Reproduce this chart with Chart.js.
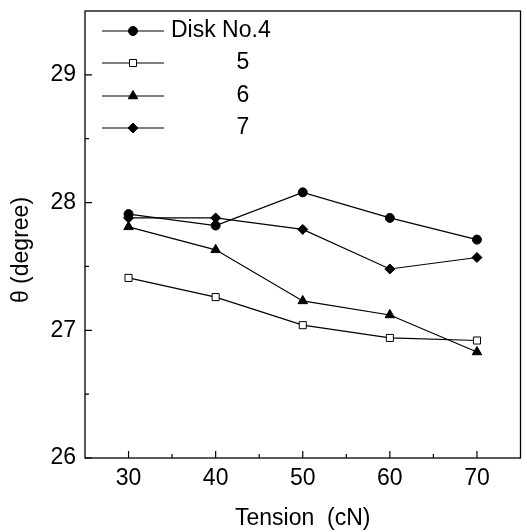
<!DOCTYPE html>
<html lang="en">
<head>
    <meta charset="UTF-8">
    <title>Theta vs Tension</title>
    <style>
        body { margin: 0; background: #fff; }
        #wrap { width: 527px; height: 532px; }
    </style>
</head>
<body>
    <div id="wrap"><canvas id="chart" width="527" height="532"></canvas></div>

    <script src="https://cdn.jsdelivr.net/npm/chart.js"></script>
    <script>
        // data
        const tension = [30, 40, 50, 60, 70];
        const disk4 = [27.91, 27.82, 28.08, 27.88, 27.71];
        const disk5 = [27.41, 27.26, 27.04, 26.94, 26.92];
        const disk6 = [27.81, 27.63, 27.23, 27.12, 26.83];
        const disk7 = [27.88, 27.88, 27.79, 27.48, 27.57];
        const legendLabels = ['Disk No.4', '5', '6', '7'];
        const xTicks = [30, 40, 50, 60, 70];
        const xMinor = [35, 45, 55, 65];
        const yTicks = [26, 27, 28, 29];
        const yMinor = [26.5, 27.5, 28.5];

        const FONT = '"Liberation Sans", Arial, sans-serif';

        function pts(vals) {
            return vals.map((v, i) => ({ x: tension[i], y: v }));
        }

        function ds(label, vals, style, radius, fill) {
            return {
                label: label,
                data: pts(vals),
                borderColor: '#000',
                borderWidth: 1.2,
                pointStyle: style,
                pointRadius: radius,
                pointBackgroundColor: fill,
                pointBorderColor: '#000',
                pointBorderWidth: 1,
                tension: 0
            };
        }

        // frame, inward ticks, y title and legend
        const decor = {
            id: 'decor',
            afterDraw(chart) {
                const ctx = chart.ctx;
                const a = chart.chartArea;
                const xs = chart.scales.x, ys = chart.scales.y;
                ctx.save();
                ctx.strokeStyle = '#000';
                ctx.lineWidth = 1.3;
                ctx.strokeRect(a.left, a.top, a.right - a.left, a.bottom - a.top);

                ctx.lineWidth = 1.2;
                ctx.beginPath();
                xTicks.forEach(v => { const p = xs.getPixelForValue(v); ctx.moveTo(p, a.bottom); ctx.lineTo(p, a.bottom - 7); });
                xMinor.forEach(v => { const p = xs.getPixelForValue(v); ctx.moveTo(p, a.bottom); ctx.lineTo(p, a.bottom - 4); });
                yTicks.forEach(v => { const p = ys.getPixelForValue(v); ctx.moveTo(a.left, p); ctx.lineTo(a.left + 7, p); });
                yMinor.forEach(v => { const p = ys.getPixelForValue(v); ctx.moveTo(a.left, p); ctx.lineTo(a.left + 4, p); });
                ctx.stroke();

                // y axis title
                ctx.fillStyle = '#000';
                ctx.font = '23px ' + FONT;
                ctx.textAlign = 'center';
                ctx.textBaseline = 'middle';
                ctx.translate(22, 250);
                ctx.rotate(-Math.PI / 2);
                ctx.fillText('\u03B8 (degree)', 0, 0);
                ctx.restore();

                // legend
                ctx.save();
                const rowY = [31, 63, 96, 128];
                chart.data.datasets.forEach((d, i) => {
                    const y = rowY[i];
                    ctx.strokeStyle = '#000';
                    ctx.lineWidth = 1.2;
                    ctx.beginPath();
                    ctx.moveTo(102, y);
                    ctx.lineTo(164, y);
                    ctx.stroke();
                    ctx.fillStyle = d.pointBackgroundColor;
                    ctx.strokeStyle = '#000';
                    ctx.lineWidth = 1;
                    Chart.helpers.drawPoint(ctx, { pointStyle: d.pointStyle, radius: d.pointRadius, borderWidth: 1, rotation: 0 }, 133, y);
                    ctx.fillStyle = '#000';
                    ctx.font = '23px ' + FONT;
                    ctx.textBaseline = 'middle';
                    if (i === 0) {
                        ctx.textAlign = 'left';
                        ctx.fillText(legendLabels[i], 171, y);
                    } else {
                        ctx.textAlign = 'center';
                        ctx.fillText(legendLabels[i], 243, y);
                    }
                });
                ctx.restore();
            }
        };

        new Chart(document.getElementById('chart'), {
            type: 'line',
            data: {
                datasets: [
                    ds(legendLabels[0], disk4, 'circle', 4.5, '#000'),
                    ds(legendLabels[1], disk5, 'rect', 5, '#fff'),
                    ds(legendLabels[2], disk6, 'triangle', 5.5, '#000'),
                    ds(legendLabels[3], disk7, 'rectRot', 5, '#000')
                ]
            },
            options: {
                responsive: false,
                animation: false,
                layout: { padding: { top: 11, right: 6, left: 0, bottom: 0 } },
                plugins: { legend: { display: false }, tooltip: { enabled: false } },
                scales: {
                    x: {
                        type: 'linear',
                        min: 25,
                        max: 75,
                        afterBuildTicks: s => { s.ticks = xTicks.map(v => ({ value: v })); },
                        afterFit: s => { s.height = 74; s.paddingLeft = 0; s.paddingRight = 0; },
                        grid: { display: false, drawTicks: false },
                        border: { display: false },
                        ticks: { color: '#000', font: { family: FONT, size: 23 }, padding: 7, maxRotation: 0 },
                        title: { display: true, text: 'Tension  (cN)', color: '#000', font: { family: FONT, size: 23 }, padding: { top: 0, bottom: 0 } }
                    },
                    y: {
                        type: 'linear',
                        min: 26,
                        max: 29.5,
                        afterBuildTicks: s => { s.ticks = yTicks.map(v => ({ value: v })); },
                        afterFit: s => { s.width = 85; s.paddingTop = 0; s.paddingBottom = 0; },
                        grid: { display: false, drawTicks: false },
                        border: { display: false },
                        ticks: { color: '#000', font: { family: FONT, size: 23 }, padding: 9 }
                    }
                }
            },
            plugins: [decor]
        });
    </script>
</body>
</html>
